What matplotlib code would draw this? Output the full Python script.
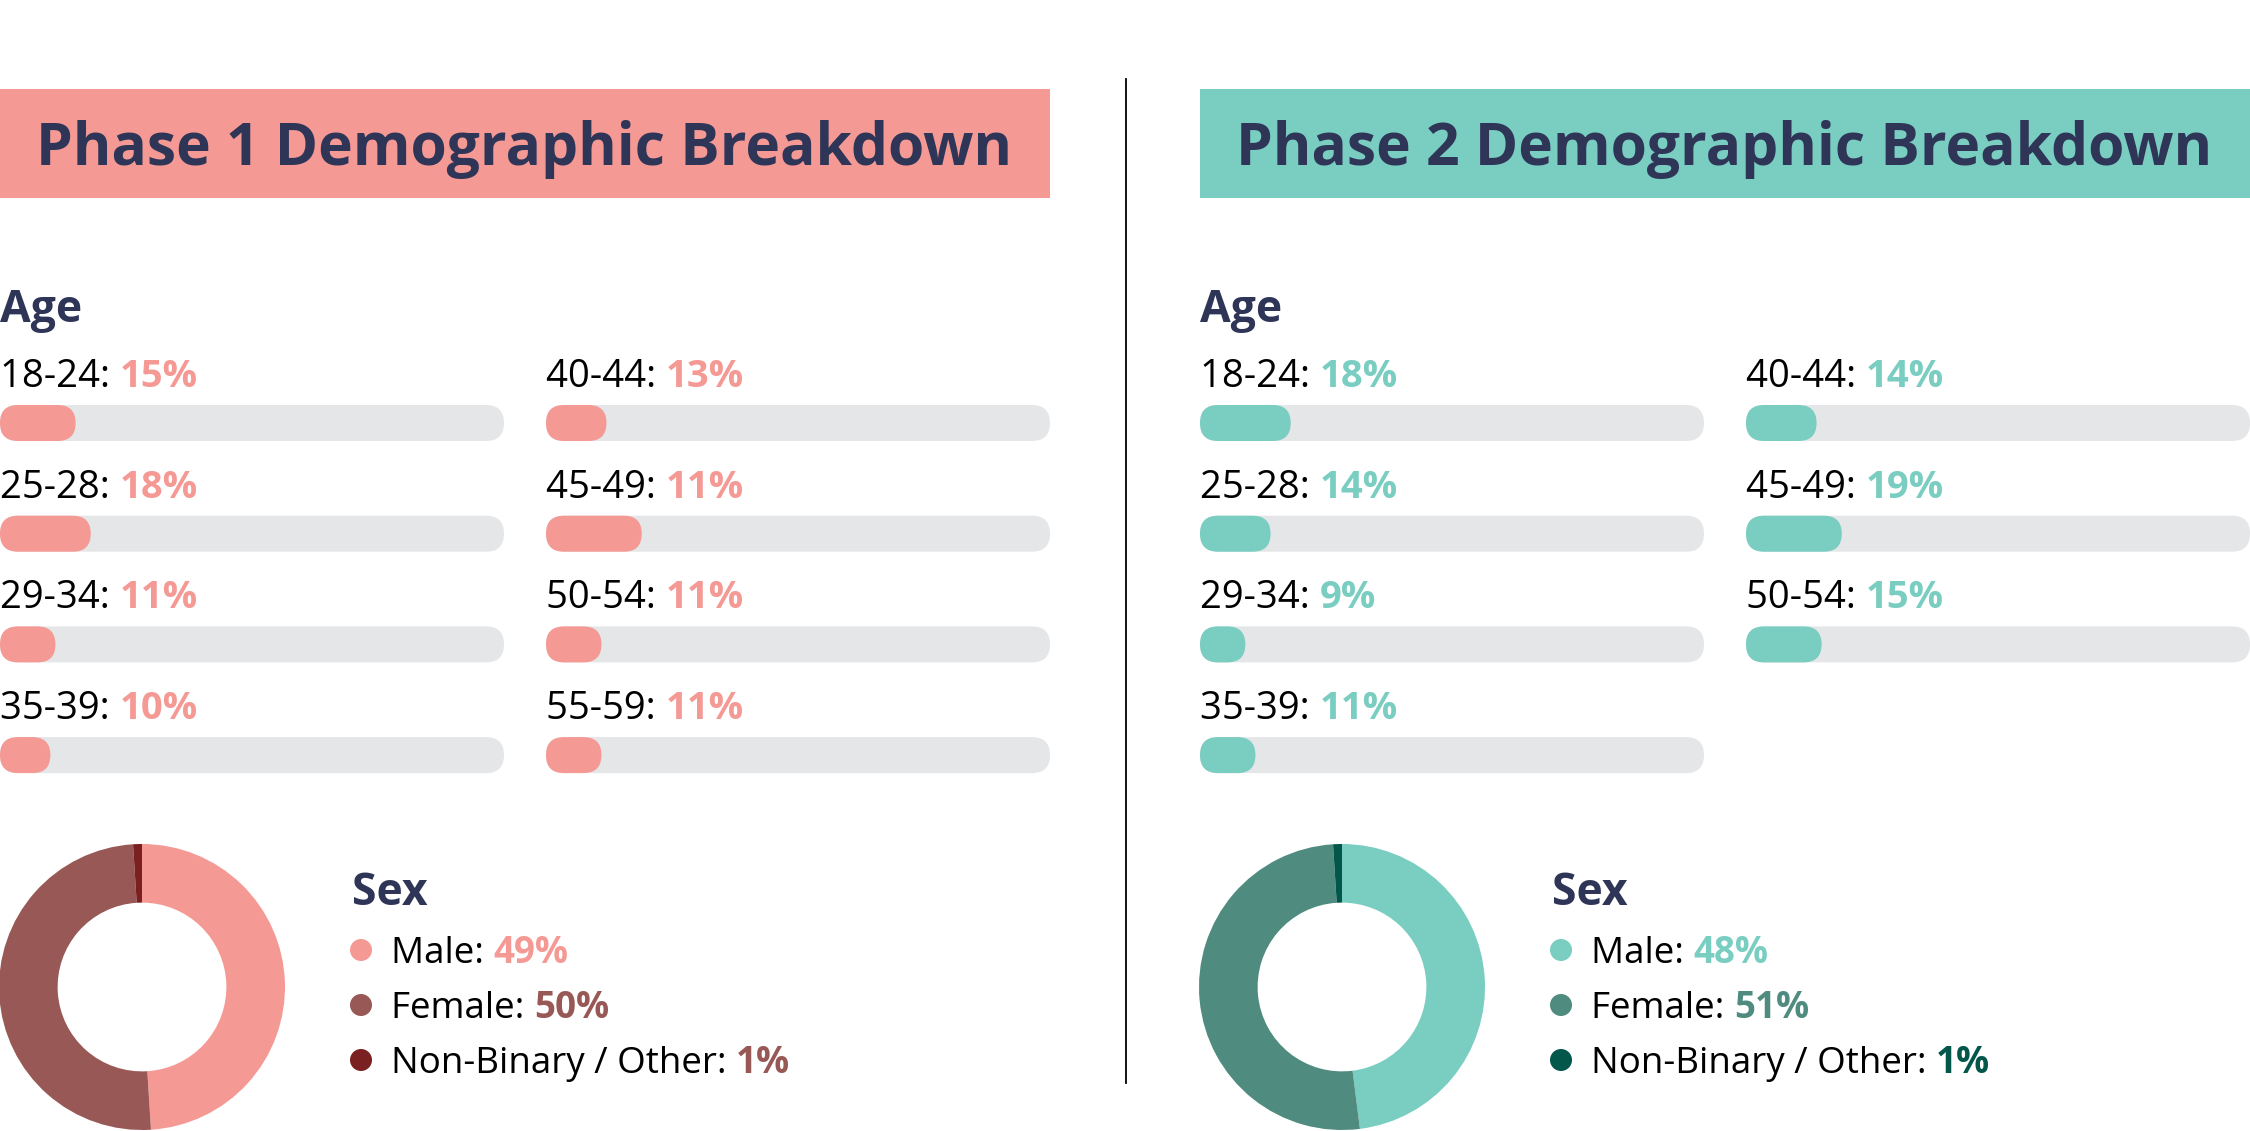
import matplotlib
matplotlib.use("Agg")
import matplotlib.pyplot as plt
from matplotlib.patches import Rectangle, FancyBboxPatch, Circle

plt.rcParams['font.family'] = ['Open Sans', 'DejaVu Sans']

# data
phase_titles = ['Phase 1 Demographic Breakdown', 'Phase 2 Demographic Breakdown']
phase1_groups = ['18-24', '25-28', '29-34', '35-39', '40-44', '45-49', '50-54', '55-59']
phase1_pct = [15, 18, 11, 10, 13, 11, 11, 11]
phase1_bar = [15, 18, 11, 10, 12, 19, 11, 11]   # bar lengths as drawn in the source
phase2_groups = ['18-24', '25-28', '29-34', '35-39', '40-44', '45-49', '50-54']
phase2_pct = [18, 14, 9, 11, 14, 19, 15]
phase2_bar = [18, 14, 9, 11, 14, 19, 15]
sex_labels = ['Male', 'Female', 'Non-Binary / Other']
phase1_sex = [49, 50, 1]
phase2_sex = [48, 51, 1]

NAVY = '#2f3557'
TRACK = '#e5e6e8'
phase1_colors = ['#f59995', '#985856', '#7a2020']
phase2_colors = ['#79cdc1', '#4f8b7e', '#02574a']
phase1_pct_colors = ['#f59995', '#985856', '#985856']
phase2_pct_colors = ['#79cdc1', '#4f8b7e', '#02574a']

W, H = 2250, 1131
fig = plt.figure(figsize=(W / 100, H / 100), dpi=100)
ax = fig.add_axes([0, 0, 1, 1])
ax.set_xlim(0, W)
ax.set_ylim(H, 0)
ax.axis('off')

AGE_FS = 27.5
SEX_FS = 26.5
BAR_W, BAR_H = 504, 36


def two_part(x, y, a, b, color, size):
    t = ax.text(x, y, a, fontsize=size, color='black', va='baseline', ha='left')
    ax.annotate(b, xy=(1, 0), xycoords=t, fontsize=size, fontweight='bold',
                color=color, va='bottom', ha='left')


def capsule(x, yc, w, color):
    ax.add_patch(FancyBboxPatch((x, yc - BAR_H / 2), w, BAR_H,
                                boxstyle=f"round,pad=0,rounding_size={BAR_H / 2}",
                                fc=color, ec='none'))


def panel(x0, title, head_color, groups, pcts, bars, sex, colors, pct_colors):
    # header band
    ax.add_patch(Rectangle((x0, 89), 1050, 109, fc=head_color, ec='none'))
    ax.text(x0 + 36, 165, title, fontsize=42.3, fontweight='bold', color=NAVY,
            va='baseline', ha='left')
    ax.text(x0, 322, 'Age', fontsize=32, fontweight='bold', color=NAVY,
            va='baseline', ha='left')
    # age bars, two columns of four
    for i, (g, p, b) in enumerate(zip(groups, pcts, bars)):
        col, row = divmod(i, 4)
        x = x0 + col * 546
        base = 387 + row * 110.7
        two_part(x, base, f'{g}: ', f'{p}%', colors[0], AGE_FS)
        yc = base + 36
        capsule(x, yc, BAR_W, TRACK)
        capsule(x, yc, BAR_W * b / 100, colors[0])
    # sex legend
    lx = x0 + 352
    ax.text(lx, 905, 'Sex', fontsize=32, fontweight='bold', color=NAVY,
            va='baseline', ha='left')
    for j, (lab, v) in enumerate(zip(sex_labels, sex)):
        yc = 950 + j * 55
        ax.add_patch(Circle((lx + 9, yc), 11, fc=colors[j], ec='none'))
        two_part(lx + 39, yc + 13, f'{lab}: ', f'{v}%', pct_colors[j], SEX_FS)
    # donut
    cx, cy, r = x0 + 142, 987, 143
    pax = fig.add_axes([(cx - r) / W, (H - cy - r) / H, 2 * r / W, 2 * r / H])
    pax.pie(sex, colors=colors, startangle=90, counterclock=False,
            wedgeprops=dict(width=0.41, edgecolor='none'))
    pax.set_xlim(-1, 1)
    pax.set_ylim(-1, 1)
    pax.set_aspect('equal')
    pax.axis('off')


panel(0, phase_titles[0], '#f59995', phase1_groups, phase1_pct, phase1_bar,
      phase1_sex, phase1_colors, phase1_pct_colors)
panel(1200, phase_titles[1], '#79cdc1', phase2_groups, phase2_pct, phase2_bar,
      phase2_sex, phase2_colors, phase2_pct_colors)

# divider
ax.plot([1126, 1126], [79, 1083], color='black', lw=1.3)

fig.savefig('out.png', dpi=100)
